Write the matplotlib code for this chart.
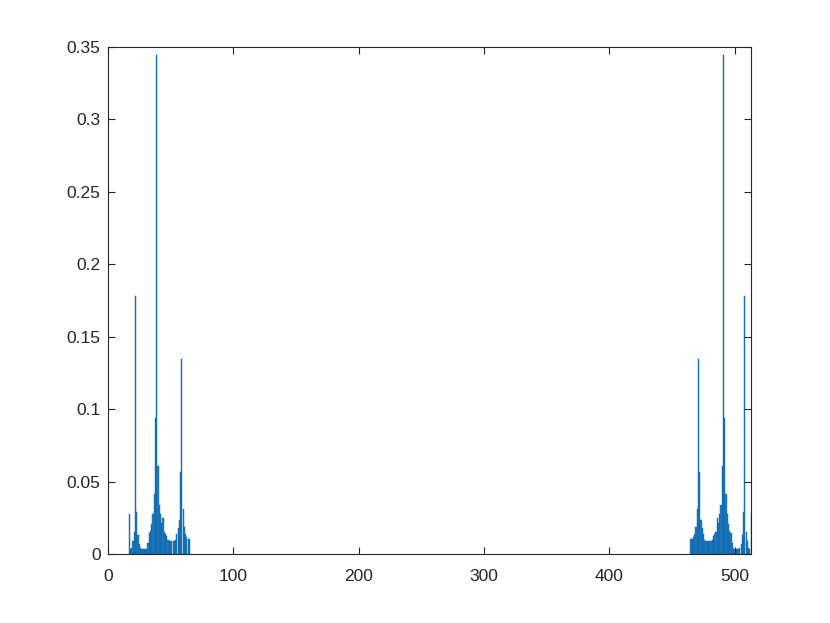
import numpy as np
import matplotlib
matplotlib.use("Agg")
import matplotlib.pyplot as plt

# left group of bins (x = 17..65)
left_x = np.arange(17, 66)
left_y = [0.028, 0.004, 0.0045, 0.009, 0.0156, 0.178, 0.029, 0.0135, 0.007, 0.0045,
          0.004, 0.0035, 0.0035, 0.0035, 0.004, 0.008, 0.015, 0.016, 0.021, 0.028,
          0.042, 0.094, 0.344, 0.061, 0.034, 0.028, 0.022, 0.025, 0.0155, 0.014,
          0.013, 0.010, 0.009, 0.009, 0.009, 0.009, 0.009, 0.010, 0.014, 0.018,
          0.024, 0.057, 0.135, 0.031, 0.019, 0.014, 0.012, 0.011, 0.011]

# right group is the mirrored spectrum (x = 465..513)
right_x = np.arange(465, 514)
right_y = [0.011, 0.011, 0.012, 0.014, 0.019, 0.031, 0.135, 0.057, 0.024, 0.018,
           0.014, 0.010, 0.009, 0.009, 0.009, 0.009, 0.009, 0.010, 0.013, 0.014,
           0.0155, 0.025, 0.022, 0.028, 0.034, 0.061, 0.344, 0.094, 0.042, 0.028,
           0.021, 0.016, 0.015, 0.008, 0.004, 0.0035, 0.0035, 0.0035, 0.004, 0.0045,
           0.007, 0.0135, 0.029, 0.178, 0.0156, 0.009, 0.0045, 0.004, 0.028]

xticks = [0, 100, 200, 300, 400, 500]
yticks = [0, 0.05, 0.1, 0.15, 0.2, 0.25, 0.3, 0.35]
ytick_labels = ['0', '0.05', '0.1', '0.15', '0.2', '0.25', '0.3', '0.35']

plt.rcParams['font.family'] = ['Liberation Sans', 'DejaVu Sans']

fig = plt.figure(figsize=(8.3, 6.23), dpi=100)
ax = fig.add_axes([0.13, 0.11, 0.775, 0.815])

# matlab-ish bar look: blue fill, thin darker edges
bar_color = '#1f80c8'
edge_col = '#0d5e9c'
ax.bar(left_x, left_y, width=0.95, color=bar_color, edgecolor=edge_col, linewidth=0.3)
ax.bar(right_x, right_y, width=0.95, color=bar_color, edgecolor=edge_col, linewidth=0.3)

ax.set_xlim(0, 513)
ax.set_ylim(0, 0.35)
ax.set_xticks(xticks)
ax.set_yticks(yticks)
ax.set_yticklabels(ytick_labels)

axis_col = '#262626'
for s in ax.spines.values():
    s.set_color(axis_col)
    s.set_linewidth(0.8)
ax.tick_params(direction='in', length=5, width=0.8, colors=axis_col,
               labelsize=12.5, top=True, right=True)
ax.tick_params(axis='x', pad=10.5)
ax.tick_params(axis='y', pad=5.3)

fig.savefig('out.png', dpi=100)
